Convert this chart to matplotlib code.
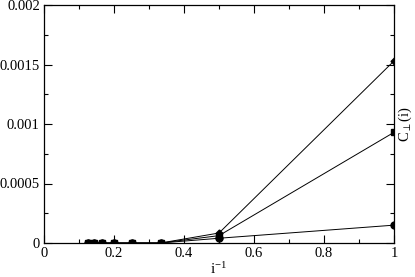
import matplotlib
matplotlib.use("Agg")
import matplotlib.pyplot as plt
from matplotlib.ticker import MultipleLocator, FixedLocator

plt.rcParams['font.family'] = ['Liberation Serif', 'DejaVu Serif']
plt.rcParams['mathtext.fontset'] = 'stix'

inv_i = [1.0, 0.5, 1/3, 0.25, 0.2, 1/6, 1/7, 0.125]
series_a = [0.00153, 0.000084, 0, 0, 0, 0, 0, 0]
series_b = [0.00093, 0.000062, 0, 0, 0, 0, 0, 0]
series_c = [0.00015, 0.000040, 0, 0, 0, 0, 0, 0]

xticks = [0, 0.2, 0.4, 0.6, 0.8, 1]
xticklabels = ["0", "0.2", "0.4", "0.6", "0.8", "1"]
yticks = [0, 0.0005, 0.001, 0.0015, 0.002]
yticklabels = ["0", "0.0005", "0.001", "0.0015", "0.002"]

fig = plt.figure(figsize=(4.15, 2.77), dpi=100)
ax = fig.add_axes([44/415, 1-243/277, (394-44)/415, (243-5)/277])

ax.plot(inv_i, series_a, color='black', lw=0.7, marker='D', ms=3.5)
ax.plot(inv_i, series_b, color='black', lw=0.7, marker='s', ms=4)
ax.plot(inv_i, series_c, color='black', lw=0.7, marker='o', ms=5)

ax.set_xlim(0, 1)
ax.set_ylim(0, 0.002)
ax.xaxis.set_major_locator(FixedLocator(xticks))
ax.set_xticklabels(xticklabels)
ax.yaxis.set_major_locator(FixedLocator(yticks))
ax.set_yticklabels(yticklabels)
ax.xaxis.set_minor_locator(MultipleLocator(0.1))
ax.yaxis.set_minor_locator(MultipleLocator(0.00025))
ax.tick_params(which='both', direction='in', top=True, right=True, labelsize=10.5, width=0.8)
ax.tick_params(which='major', length=6, pad=3)
ax.tick_params(which='minor', length=3)
for s in ax.spines.values():
    s.set_linewidth(0.9)

ax.set_xlabel(r"i$^{\mathregular{-1}}$", fontsize=11, labelpad=0)
ax.yaxis.set_label_position('right')
ax.set_ylabel(r"C$_{\perp}$(i)", fontsize=10.5, rotation=90, labelpad=2)

fig.savefig("out.png", dpi=100)
